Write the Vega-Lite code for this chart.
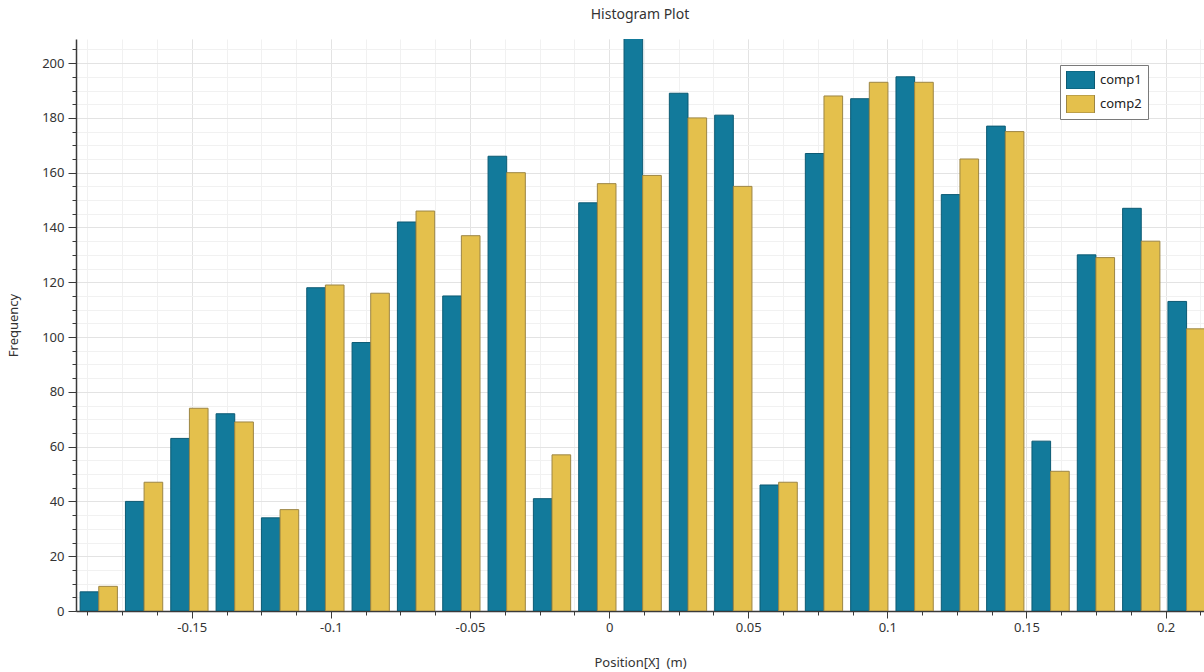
{
  "$schema": "https://vega.github.io/schema/vega-lite/v6.json",
  "width": 1128,
  "height": 572,
  "autosize": {"type": "none"},
  "padding": {"left": 76, "top": 39, "right": 0, "bottom": 61},
  "background": "white",
  "title": {"text": "Histogram Plot", "fontSize": 14, "fontWeight": "normal", "font": "Noto Sans", "color": "#333333", "anchor": "middle", "frame": "group", "offset": 17},
  "config": {
    "view": {"stroke": null},
    "axis": {"labelFont": "Noto Sans", "titleFont": "Noto Sans", "labelFontSize": 13, "titleFontSize": 13, "titleFontWeight": "normal", "labelColor": "#333333", "titleColor": "#333333", "domainColor": "#3a3a3a", "tickColor": "#3a3a3a"},
    "legend": {"labelFont": "Noto Sans"}
  },
  "data": {"values": [
    {"series": "comp1", "lo": -0.19012, "hi": -0.18342, "count": 7},
    {"series": "comp2", "lo": -0.18342, "hi": -0.17672, "count": 9},
    {"series": "comp1", "lo": -0.17383, "hi": -0.16713, "count": 40},
    {"series": "comp2", "lo": -0.16713, "hi": -0.16043, "count": 47},
    {"series": "comp1", "lo": -0.15754, "hi": -0.15084, "count": 63},
    {"series": "comp2", "lo": -0.15084, "hi": -0.14414, "count": 74},
    {"series": "comp1", "lo": -0.14125, "hi": -0.13455, "count": 72},
    {"series": "comp2", "lo": -0.13455, "hi": -0.12785, "count": 69},
    {"series": "comp1", "lo": -0.12496, "hi": -0.11826, "count": 34},
    {"series": "comp2", "lo": -0.11826, "hi": -0.11156, "count": 37},
    {"series": "comp1", "lo": -0.10867, "hi": -0.10197, "count": 118},
    {"series": "comp2", "lo": -0.10197, "hi": -0.09527, "count": 119},
    {"series": "comp1", "lo": -0.09238, "hi": -0.08568, "count": 98},
    {"series": "comp2", "lo": -0.08568, "hi": -0.07898, "count": 116},
    {"series": "comp1", "lo": -0.07609, "hi": -0.06939, "count": 142},
    {"series": "comp2", "lo": -0.06939, "hi": -0.06269, "count": 146},
    {"series": "comp1", "lo": -0.05980, "hi": -0.05310, "count": 115},
    {"series": "comp2", "lo": -0.05310, "hi": -0.04640, "count": 137},
    {"series": "comp1", "lo": -0.04351, "hi": -0.03681, "count": 166},
    {"series": "comp2", "lo": -0.03681, "hi": -0.03011, "count": 160},
    {"series": "comp1", "lo": -0.02722, "hi": -0.02052, "count": 41},
    {"series": "comp2", "lo": -0.02052, "hi": -0.01382, "count": 57},
    {"series": "comp1", "lo": -0.01093, "hi": -0.00423, "count": 149},
    {"series": "comp2", "lo": -0.00423, "hi": 0.00247, "count": 156},
    {"series": "comp1", "lo": 0.00536, "hi": 0.01206, "count": 209},
    {"series": "comp2", "lo": 0.01206, "hi": 0.01876, "count": 159},
    {"series": "comp1", "lo": 0.02165, "hi": 0.02835, "count": 189},
    {"series": "comp2", "lo": 0.02835, "hi": 0.03505, "count": 180},
    {"series": "comp1", "lo": 0.03794, "hi": 0.04464, "count": 181},
    {"series": "comp2", "lo": 0.04464, "hi": 0.05134, "count": 155},
    {"series": "comp1", "lo": 0.05423, "hi": 0.06093, "count": 46},
    {"series": "comp2", "lo": 0.06093, "hi": 0.06763, "count": 47},
    {"series": "comp1", "lo": 0.07052, "hi": 0.07722, "count": 167},
    {"series": "comp2", "lo": 0.07722, "hi": 0.08392, "count": 188},
    {"series": "comp1", "lo": 0.08681, "hi": 0.09351, "count": 187},
    {"series": "comp2", "lo": 0.09351, "hi": 0.10021, "count": 193},
    {"series": "comp1", "lo": 0.10310, "hi": 0.10980, "count": 195},
    {"series": "comp2", "lo": 0.10980, "hi": 0.11650, "count": 193},
    {"series": "comp1", "lo": 0.11939, "hi": 0.12609, "count": 152},
    {"series": "comp2", "lo": 0.12609, "hi": 0.13279, "count": 165},
    {"series": "comp1", "lo": 0.13568, "hi": 0.14238, "count": 177},
    {"series": "comp2", "lo": 0.14238, "hi": 0.14908, "count": 175},
    {"series": "comp1", "lo": 0.15197, "hi": 0.15867, "count": 62},
    {"series": "comp2", "lo": 0.15867, "hi": 0.16537, "count": 51},
    {"series": "comp1", "lo": 0.16826, "hi": 0.17496, "count": 130},
    {"series": "comp2", "lo": 0.17496, "hi": 0.18166, "count": 129},
    {"series": "comp1", "lo": 0.18455, "hi": 0.19125, "count": 147},
    {"series": "comp2", "lo": 0.19125, "hi": 0.19795, "count": 135},
    {"series": "comp1", "lo": 0.20084, "hi": 0.20754, "count": 113},
    {"series": "comp2", "lo": 0.20754, "hi": 0.21424, "count": 103}
  ]},
  "resolve": {"axis": {"x": "independent", "y": "independent"}},
  "layer": [
    {
      "mark": {"type": "bar", "opacity": 0, "clip": true},
      "encoding": {
        "x": {"field": "lo", "type": "quantitative", "scale": {"domain": [-0.1916, 0.2138], "nice": false, "zero": false},
          "axis": {"orient": "bottom", "values": [-0.1875,-0.175,-0.1625,-0.15,-0.1375,-0.125,-0.1125,-0.1,-0.0875,-0.075,-0.0625,-0.05,-0.0375,-0.025,-0.0125,0,0.0125,0.025,0.0375,0.05,0.0625,0.075,0.0875,0.1,0.1125,0.125,0.1375,0.15,0.1625,0.175,0.1875,0.2,0.2125], "labels": false, "domain": false, "title": null, "grid": true, "gridColor": "#f1f1f1", "gridWidth": 1, "tickSize": 4, "tickWidth": 1}},
        "x2": {"field": "hi"},
        "y": {"field": "count", "type": "quantitative", "scale": {"domain": [0, 208.8], "nice": false},
          "axis": {"orient": "left", "values": [0,5,10,15,20,25,30,35,40,45,50,55,60,65,70,75,80,85,90,95,100,105,110,115,120,125,130,135,140,145,150,155,160,165,170,175,180,185,190,195,200,205], "labels": false, "domain": false, "title": null, "grid": true, "gridColor": "#f1f1f1", "gridWidth": 1, "tickSize": 4, "tickWidth": 1}},
        "y2": {"datum": 0}
      }
    },
    {
      "mark": {"type": "bar", "clip": true, "strokeWidth": 1},
      "encoding": {
        "x": {"field": "lo", "type": "quantitative",
          "axis": {"orient": "bottom", "values": [-0.15,-0.1,-0.05,0,0.05,0.1,0.15,0.2], "labelExpr": "'' + datum.value", "title": "Position[X]\u00a0\u00a0(m)", "titleX": 564, "titleY": 51, "titleBaseline": "middle", "grid": true, "gridColor": "#e3e3e3", "tickSize": 7, "tickWidth": 1, "labelPadding": 3, "domainWidth": 1.5, "labelFlush": false}},
        "x2": {"field": "hi"},
        "y": {"field": "count", "type": "quantitative",
          "axis": {"orient": "left", "values": [0,20,40,60,80,100,120,140,160,180,200], "title": "Frequency", "titleX": -63, "titleY": 286, "titleBaseline": "middle", "titleAngle": 270, "grid": true, "gridColor": "#e3e3e3", "tickSize": 8, "tickWidth": 1, "labelPadding": 4, "domainWidth": 1.5}},
        "y2": {"datum": 0},
        "fill": {"field": "series", "type": "nominal",
          "scale": {"domain": ["comp1", "comp2"], "range": ["#127a9b", "#e4c04c"]},
          "legend": {"title": null, "orient": "none", "legendX": 984, "legendY": 26, "symbolType": "M-1,-0.64H1V0.64H-1Z", "symbolSize": 784, "clipHeight": 18, "rowPadding": 6, "padding": 6, "strokeColor": "#7a7a7a", "fillColor": "white", "labelFontSize": 13, "labelColor": "#222222", "labelOffset": 5, "symbolStrokeWidth": 1, "symbolOpacity": 1}},
        "stroke": {"field": "series", "type": "nominal",
          "scale": {"domain": ["comp1", "comp2"], "range": ["#0c5a73", "#9c8544"]},
          "legend": {"title": null, "orient": "none", "legendX": 984, "legendY": 26, "symbolType": "M-1,-0.64H1V0.64H-1Z", "symbolSize": 784, "clipHeight": 18, "rowPadding": 6, "padding": 6, "strokeColor": "#7a7a7a", "fillColor": "white", "labelFontSize": 13, "labelColor": "#222222", "labelOffset": 5, "symbolStrokeWidth": 1, "symbolOpacity": 1}}
      }
    }
  ]
}
